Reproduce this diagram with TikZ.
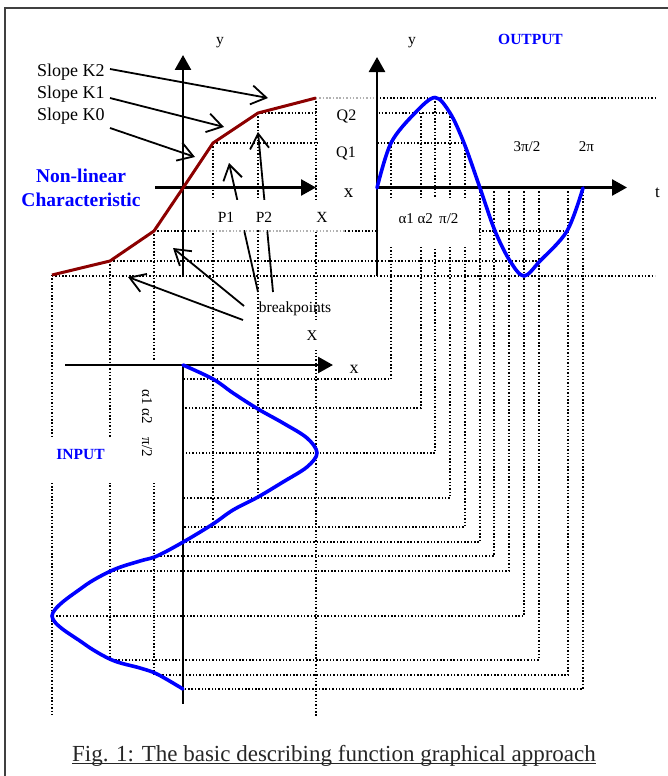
\documentclass[tikz,border=0pt]{standalone}
\usepackage{fontspec}
\setmainfont{Liberation Serif}
\usetikzlibrary{arrows.meta}
\definecolor{maroonc}{RGB}{140,0,0}
\definecolor{pureblue}{RGB}{0,0,255}
\begin{document}
\begin{tikzpicture}[x=1pt,y=-1pt,
  dotln/.style={line width=1.45pt, dash pattern=on 1.45pt off 1.9pt, black},
  faint/.style={dotln, black!30},
  axisln/.style={line width=2.6pt, -{Triangle[length=15pt,width=16pt]}},
  note/.style={line width=1.8pt, -{Straight Barb[length=15pt,width=19pt]}},
  mask/.style={fill=white, draw=none},
  lbl/.style={inner sep=0pt, font=\fontsize{15.5}{18}\selectfont},
  blbl/.style={inner sep=0pt, text=pureblue, font=\fontsize{15.5}{18}\selectfont\bfseries},
  curveR/.style={maroonc, line width=3pt, line join=round},
  curveB/.style={pureblue, line width=3.6pt, line cap=round}
]
\useasboundingbox (0,0) rectangle (668,776);
% frame
\draw[line width=2pt, black!75] (5,780) -- (5,8) -- (672,8);

% ---- dotted projection lines: characteristic verticals
\draw[dotln] (213,143) -- (213,527);
\draw[dotln] (258,113) -- (258,498);
\draw[dotln] (316,98) -- (316,717);
\draw[dotln] (154,231) -- (154,675);
\draw[dotln] (110,261) -- (110,660);
\draw[dotln] (52,275) -- (52,717);
% characteristic horizontals
\draw[dotln] (213,143) -- (465,143);
\draw[dotln] (258,113) -- (450,113);
\draw[dotln] (380,98) -- (655,98);
\draw[dotln] (154,231) -- (199,231);
\draw[dotln] (345,231) -- (568,231);
\draw[dotln] (110,261) -- (539,261);
\draw[dotln] (52,276) -- (655,276);
% output samples to input samples
\draw[dotln] (391,143) -- (391,379) -- (183,379);
\draw[dotln] (421,113) -- (421,408) -- (183,408);
\draw[dotln] (435,98) -- (435,453) -- (183,453);
\draw[dotln] (450,113) -- (450,498) -- (183,498);
\draw[dotln] (465,143) -- (465,527) -- (183,527);
\draw[dotln] (480,188) -- (480,542) -- (183,542);
\draw[dotln] (494,188) -- (494,556) -- (154,556);
\draw[dotln] (509,188) -- (509,571) -- (110,571);
\draw[dotln] (524,188) -- (524,616) -- (52,616);
\draw[dotln] (539,188) -- (539,660) -- (110,660);
\draw[dotln] (568,188) -- (568,675) -- (154,675);
\draw[dotln] (583,188) -- (583,689) -- (183,689);

% breakpoint arrows that pass behind the P labels
\coordinate (bpP1) at (258,292);
\coordinate (bpP2) at (273,292);
\coordinate (tP1) at (229,163);
\coordinate (tP2) at (258,132);
\draw[note] (bpP1) -- (tP1);
\draw[note] (bpP2) -- (tP2);

% white label backgrounds
\fill[mask] (198,200) rectangle (345,229.5);
\fill[mask] (318,100) rectangle (376,228.5);
\fill[mask] (379,199) rectangle (478,247);
\fill[mask] (300,320) rectangle (326,350);
\fill[mask] (134,360) rectangle (163,483);
\fill[mask] (45,437) rectangle (118,483);
% faint lines seen through label boxes
\draw[faint] (316,98) -- (378,98);
\draw[faint] (199,231) -- (345,231);

% ---- axes
\draw[axisln] (183,277) -- (183,55);
\draw[axisln] (155,187.5) -- (316,187.5);
\draw[axisln] (377,276) -- (377,57);
\draw[axisln] (377,187.5) -- (627,187.5);
\draw[axisln] (65,365) -- (333,365);
\draw[line width=1.5pt] (183,365) -- (183,704);

% ---- curves
\draw[curveR] (52,275) -- (110,261) -- (154,231) -- (183,188) -- (213,143) -- (258,113) -- (316,98);
\draw[curveB] plot[smooth, tension=0.55] coordinates {(377,188) (391,143) (415,113) (435,97.5) (450,113) (464,143) (480,188) (495,231) (510,261) (524,276) (540,261) (567,231) (583,188)};
\draw[curveB] plot[smooth, tension=0.55] coordinates {(183,365) (213,379) (233,393) (258,409) (283,423) (307,438) (317,453) (307,467) (283,482) (258,497) (233,510) (213,524) (185,541) (157,556) (140,561) (113,570) (83,587) (52,616) (83,643) (112,660) (140,668) (157,674) (183,689)};

% ---- labels
\node[lbl, anchor=base] (ychar) at (220,45) {y};
\node[lbl, anchor=base] (yout) at (412,45) {y};
\node[blbl, anchor=base] (outp) at (530.5,45) {OUTPUT};
\node[lbl, anchor=base west, font=\fontsize{18}{20}\selectfont] (k2) at (37,77) {Slope K2};
\node[lbl, anchor=base west, font=\fontsize{18}{20}\selectfont] (k1) at (37,98.5) {Slope K1};
\node[lbl, anchor=base west, font=\fontsize{18}{20}\selectfont] (k0) at (37,120) {Slope K0};
\node[blbl, anchor=base, font=\fontsize{19.5}{22}\selectfont\bfseries] (nl1) at (81,182) {Non-linear};
\node[blbl, anchor=base, font=\fontsize{19.5}{22}\selectfont\bfseries] (nl2) at (81,206) {Characteristic};
\node[lbl, anchor=base] (p1) at (226,222) {P1};
\node[lbl, anchor=base] (p2) at (264,222) {P2};
\node[lbl, anchor=base] (xc) at (322,222) {X};
\node[lbl, anchor=base, font=\fontsize{16}{18}\selectfont] (q2) at (346.5,120) {Q2};
\node[lbl, anchor=base, font=\fontsize{16}{18}\selectfont] (q1) at (346,157) {Q1};
\node[lbl, anchor=base, font=\fontsize{19}{20}\selectfont] (xo) at (348.5,197) {x};
\node[lbl, anchor=base, font=\fontsize{15}{18}\selectfont] (alo) at (428.5,223) {α1 α2 \,π/2};
\node[lbl, anchor=base, font=\fontsize{15}{18}\selectfont] (tp32) at (527,151) {3π/2};
\node[lbl, anchor=base, font=\fontsize{15}{18}\selectfont] (tp2) at (586.5,151) {2π};
\node[lbl, anchor=base, font=\fontsize{17}{18}\selectfont] (tl) at (657.5,197) {t};
\node[lbl, anchor=base] (bp) at (295,312) {breakpoints};
\node[lbl, anchor=base, font=\fontsize{15}{18}\selectfont] (xi) at (312,340) {X};
\node[lbl, anchor=base, font=\fontsize{18}{20}\selectfont] (xin) at (354,373) {x};
\node[blbl, anchor=base] (inp) at (80.5,459) {INPUT};
\node[lbl, rotate=-90, font=\fontsize{15}{18}\selectfont] (ali) at (147,423) {α1 α2\hspace{14pt}π/2};
\node[lbl, anchor=base, font=\fontsize{23}{26}\selectfont, text=black!85] (cap) at (334,761) {Fig. 1: The basic describing function graphical approach};
\draw[line width=1.3pt, black!85] ([yshift=-2.5pt]cap.base west) -- ([yshift=-2.5pt]cap.base east);

% ---- annotation arrows
\coordinate (sk2) at (110,69);
\coordinate (sk1) at (110,98);
\coordinate (sk0) at (110,128);
\coordinate (tk2) at (268,98);
\coordinate (tk1) at (224,127);
\coordinate (tk0) at (195,157);
\draw[note] (sk2) -- (tk2);
\draw[note] (sk1) -- (tk1);
\draw[note] (sk0) -- (tk0);
\coordinate (bpa) at (244,306);
\coordinate (bpb) at (243,320);
\coordinate (ta1) at (173,248);
\coordinate (ta2) at (128,277);
\draw[note] (bpa) -- (ta1);
\draw[note] (bpb) -- (ta2);
\end{tikzpicture}
\end{document}
